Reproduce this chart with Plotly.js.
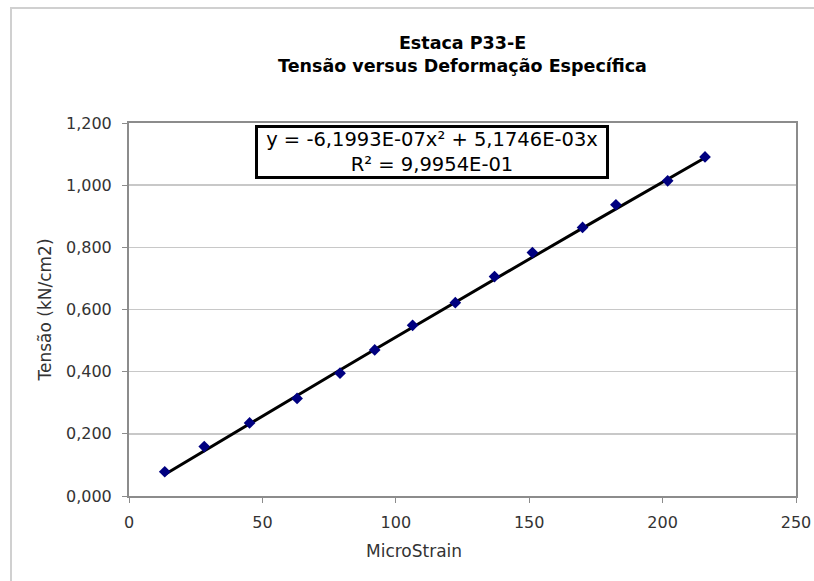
<!DOCTYPE html>
<html>
<head>
<meta charset="utf-8">
<script src="https://cdn.plot.ly/plotly-3.0.1.min.js"></script>
<style>
  html, body { margin: 0; padding: 0; background: #fff; }
  #frame { position: absolute; left: 10px; top: 7px; width: 804px; height: 574px;
           border-top: 2px solid #d0d0d0; border-left: 2px solid #d0d0d0; box-sizing: border-box; }
  #chart { position: absolute; left: 0; top: 0; width: 814px; height: 581px; }
</style>
</head>
<body>
<div id="frame"></div>
<div id="chart"></div>
<script>
// Pile P33-E load test: stress against specific strain
const microStrain = [13.4, 28.2, 45.2, 63.0, 79.1, 92.1, 106.3, 122.3, 137.0, 151.2, 170.0, 182.5, 201.9, 215.9];
const tensao      = [0.078, 0.159, 0.235, 0.314, 0.395, 0.470, 0.549, 0.622, 0.706, 0.783, 0.864, 0.937, 1.014, 1.091];

// Polynomial trendline (order 2, zero intercept): y = a*x^2 + b*x
const trendCoef = [-6.1993e-7, 5.1746e-3];
const rSquared = 0.99954;

const xTickVals = [0, 50, 100, 150, 200, 250];
const yTickVals = [0, 0.2, 0.4, 0.6, 0.8, 1.0, 1.2];
const yTickText = ['0,000', '0,200', '0,400', '0,600', '0,800', '1,000', '1,200'];

const trendY = microStrain.map(x => trendCoef[0] * x * x + trendCoef[1] * x);

const labelFont = 'Verdana, "DejaVu Sans", sans-serif';

const traces = [
  {
    x: microStrain, y: trendY, type: 'scatter', mode: 'lines',
    line: { color: '#000000', width: 3 }, hoverinfo: 'skip'
  },
  {
    x: microStrain, y: tensao, type: 'scatter', mode: 'markers',
    marker: { symbol: 'diamond', size: 9, color: '#000080' }
  }
];

const layout = {
  width: 814, height: 581,
  paper_bgcolor: 'rgba(0,0,0,0)', plot_bgcolor: '#ffffff',
  showlegend: false,
  margin: { l: 128.5, r: 18, t: 122.7, b: 84.5 },
  title: {
    text: '<b>Estaca P33-E</b><br><b>Tensão versus Deformação Específica</b>',
    font: { family: 'Tahoma, "DejaVu Sans", sans-serif', size: 17.5, color: '#000' },
    xref: 'paper', x: 0.5, xanchor: 'center',
    yref: 'container', y: 1 - 49 / 581, yanchor: 'top'
  },
  xaxis: {
    range: [0, 250], tickvals: xTickVals, ticktext: xTickVals.map(String),
    showline: true, mirror: true, linecolor: '#8c8c8c', linewidth: 2,
    ticks: 'outside', ticklen: 5, tickcolor: '#8c8c8c', tickwidth: 1,
    ticklabelstandoff: 6,
    showgrid: false, zeroline: false,
    tickfont: { family: labelFont, size: 16, color: '#333' }
  },
  yaxis: {
    range: [0, 1.2], tickvals: yTickVals, ticktext: yTickText,
    showline: true, mirror: true, linecolor: '#8c8c8c', linewidth: 2,
    ticks: 'outside', ticklen: 5, tickcolor: '#8c8c8c', tickwidth: 1,
    ticklabelstandoff: 7,
    showgrid: true, gridcolor: '#c8c8c8', gridwidth: 1.5, zeroline: false,
    tickfont: { family: labelFont, size: 16, color: '#333' },
    title: { text: 'Tensão (kN/cm2)', font: { family: labelFont, size: 17, color: '#333' }, standoff: 10 }
  },
  annotations: [
    {
      xref: 'paper', yref: 'paper', x: (413.7 - 128.5) / (796 - 128.5), y: -0.147,
      xanchor: 'center', yanchor: 'middle', showarrow: false,
      text: 'MicroStrain', font: { family: labelFont, size: 17, color: '#333' }
    },
    {
      xref: 'x', yref: 'y', x: 113.5, y: 1.1075, xanchor: 'center', yanchor: 'middle',
      showarrow: false, align: 'center',
      text: 'y = -6,1993E-07x² + 5,1746E-03x<br>R² = ' + rSquared.toExponential(4).replace('.', ',').replace('e-', 'E-0'),
      font: { family: labelFont, size: 19.5, color: '#000' },
      bgcolor: '#ffffff', bordercolor: '#000000', borderwidth: 3, borderpad: 1,
      width: 346, height: 46
    }
  ]
};

Plotly.newPlot('chart', traces, layout, { displayModeBar: false, staticPlot: true });
</script>
</body>
</html>
